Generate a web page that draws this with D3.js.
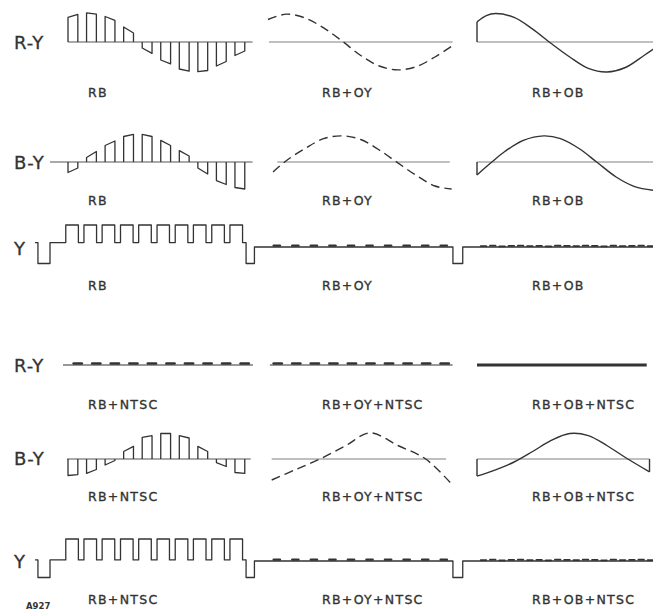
<!DOCTYPE html>
<html>
<head>
<script src="https://d3js.org/d3.v7.min.js"></script>
<style>
  body { margin: 0; background: #fff; }
</style>
</head>
<body>
<script>
// row titles and panel captions
const rowNames = ["R-Y", "B-Y", "Y", "R-Y", "B-Y", "Y"];
const captionsTop = ["RB", "RB+OY", "RB+OB"];
const captionsNtsc = ["RB+NTSC", "RB+OY+NTSC", "RB+OB+NTSC"];
const figureCode = "A927";

// sampled chroma pulses: [value at start, value at end] of each top (-1..1)
const ryPulsesRB = [[0.82, 0.92], [0.97, 0.93], [0.85, 0.72], [0.5, 0.3], [-0.2, -0.38],
                    [-0.6, -0.73], [-0.9, -0.97], [-0.99, -0.95], [-0.8, -0.65], [-0.45, -0.3]];
const byPulsesRB = [[-0.35, -0.2], [0.15, 0.35], [0.55, 0.7], [0.85, 0.92], [0.92, 0.85],
                    [0.72, 0.55], [0.38, 0.2], [-0.2, -0.4], [-0.62, -0.75], [-0.85, -0.9]];
const byPulsesNtsc = [[-0.55, -0.52], [-0.48, -0.35], [-0.2, -0.05], [0.25, 0.42], [0.72, 0.78],
                      [0.85, 0.85], [0.78, 0.7], [0.42, 0.25], [-0.12, -0.25], [-0.45, -0.48]];
// tiny residue left on R-Y with NTSC (per pulse slot)
const ryResidNtsc = [0.05, 0.05, 0.05, 0.05, 0.05, 0.05, 0.05, 0.05, 0.05, 0.05];
const ryResidNtscOY = [0.05, 0.05, 0.05, 0.05, 0.05, 0.05, 0.05, 0.05, 0.05, 0.05];

// continuous curves: [time, value]
const ryCurveOY = [[0, 0.75], [1, 0.93], [2, 0.8], [3, 0.47], [4, 0.03], [5, -0.45],
                   [6, -0.8], [7, -0.93], [8, -0.82], [9, -0.5], [9.95, -0.12]];
const ryCurveOB = [[0, 0.67], [0.5, 0.88], [1, 0.95], [2, 0.82], [3, 0.43], [4, -0.05],
                   [5, -0.5], [6, -0.88], [7, -1.0], [8, -0.85], [9, -0.45], [9.6, -0.2]];
const byCurveOY = [[0.27, -0.33], [1, 0.05], [2, 0.45], [3, 0.78], [4, 0.87], [5, 0.75],
                   [6, 0.4], [7, -0.03], [8, -0.45], [9, -0.8], [9.9, -0.9]];
const byCurveOB = [[0, -0.43], [0.8, 0], [1.5, 0.35], [2.5, 0.72], [3.6, 0.87], [4.5, 0.78],
                   [5.5, 0.45], [6.45, 0], [7.5, -0.5], [8.5, -0.82], [9.6, -0.95]];
const byCurveOYNtsc = [[0.2, -0.7], [1.5, -0.35], [2.8, 0], [4.2, 0.45], [5.5, 0.87],
                       [7, 0.45], [8.5, 0], [9.95, -0.87]];
const byCurveOBNtsc = [[0, -0.57], [1, -0.36], [2, -0.1], [3, 0.25], [4, 0.62], [5, 0.85],
                       [6, 0.78], [7, 0.45], [8, 0.05], [9.3, -0.43]];

// luminance staircase: pulse edges, sync edges (time units) and levels
const yPulseOn = [-0.12, 0.86, 1.84, 2.83, 3.81, 4.8, 5.78, 6.76, 7.75, 8.73];
const yPulseOff = [0.56, 1.54, 2.52, 3.51, 4.49, 5.47, 6.46, 7.44, 8.43, 9.41];
const ySyncOn = [-1.62, 9.6, 20.75];
const ySyncOff = [-0.97, 10.05, 21.28];
const yLevelSync = -0.75;
const yLowRB = 0.2;
const yLowNtsc = 0.05;
// small residue bumps on the luminance line
const yResidOY = [0.06, 0.06, 0.06, 0.06, 0.06, 0.06, 0.06, 0.06, 0.06, 0.06];
const yResidOB = [0.04, 0.06, 0.03, 0.05, 0.06, 0.04, 0.05, 0.03, 0.06, 0.05,
                  0.04, 0.06, 0.05, 0.03, 0.06, 0.04, 0.05, 0.06, 0.04, 0.05];

const W = 653, H = 610;
const ink = "#333";
const svg = d3.select("body").append("svg")
  .attr("width", W).attr("height", H)
  .style("background", "#fff")
  .style("font-family", "'DejaVu Sans', sans-serif");

const rowBase = [42, 162, 247, 365, 459, 561];
const x1 = d3.scaleLinear().domain([0, 10]).range([68, 253.5]);
const x2 = d3.scaleLinear().domain([0, 10]).range([268, 453.5]);
const x3 = d3.scaleLinear().domain([0, 10]).range([477, 662.5]);
const chromaY = r => d3.scaleLinear().domain([-1, 1]).range([rowBase[r] + 30, rowBase[r] - 30]);
const lumaY = r => d3.scaleLinear().domain([0, 1]).range([rowBase[r], rowBase[r] - 22]);

function zeroLine(x, y, t0, t1, w, col) {
  svg.append("line")
    .attr("x1", x(t0)).attr("x2", x(t1))
    .attr("y1", y(0)).attr("y2", y(0))
    .attr("stroke", col || "#808080").attr("stroke-width", w || 1);
}

function pulses(x, y, data) {
  svg.append("g").selectAll("path").data(data).join("path")
    .attr("d", (d, i) => d3.line()([[x(i), y(0)], [x(i), y(d[0])], [x(i + 0.53), y(d[1])], [x(i + 0.53), y(0)]]))
    .attr("fill", "none").attr("stroke", ink).attr("stroke-width", 1.3)
    .attr("stroke-linejoin", "round");
}

function curve(x, y, data, dashed) {
  const line = d3.line().x(d => x(d[0])).y(d => y(d[1])).curve(d3.curveCatmullRom.alpha(0.5));
  svg.append("path").attr("d", line(data))
    .attr("fill", "none").attr("stroke", ink).attr("stroke-width", 1.4)
    .attr("stroke-dasharray", dashed ? "9,5" : null);
}

function edge(x, y, d) {
  svg.append("line")
    .attr("x1", x(d[0])).attr("x2", x(d[0]))
    .attr("y1", y(0)).attr("y2", y(d[1]))
    .attr("stroke", ink).attr("stroke-width", 1.4);
}

function residue(x, y, data, from, len, w) {
  svg.append("g").selectAll("line").data(data).join("line")
    .attr("x1", (d, i) => x(from + i * (10 / data.length)))
    .attr("x2", (d, i) => x(from + i * (10 / data.length) + len))
    .attr("y1", d => y(d)).attr("y2", d => y(d))
    .attr("stroke", ink).attr("stroke-width", w).attr("stroke-linecap", "round");
}

function lumaRow(r, low) {
  const y = lumaY(r);
  const pts = [[-1.78, low], [ySyncOn[0], low], [ySyncOn[0], yLevelSync], [ySyncOff[0], yLevelSync], [ySyncOff[0], low]];
  yPulseOn.forEach((on, i) => {
    pts.push([on, low], [on, 1], [yPulseOff[i], 1], [yPulseOff[i], low]);
  });
  pts.push([ySyncOn[1], low], [ySyncOn[1], yLevelSync], [ySyncOff[1], yLevelSync], [ySyncOff[1], 0],
           [ySyncOn[2], 0], [ySyncOn[2], yLevelSync], [ySyncOff[2], yLevelSync], [ySyncOff[2], 0], [31.6, 0]);
  svg.append("path")
    .attr("d", d3.line().x(d => x1(d[0])).y(d => y(d[1]))(pts))
    .attr("fill", "none").attr("stroke", ink).attr("stroke-width", 1.3)
    .attr("stroke-linejoin", "round");
  residue(x2, y, yResidOY, 0.3, 0.35, 2.2);
  residue(x3, y, yResidOB, 0.2, 0.3, 1.8);
}

// row 1: R-Y
let y = chromaY(0);
zeroLine(x1, y, 0, 9.95, 1.1, "#555");
pulses(x1, y, ryPulsesRB);
zeroLine(x2, y, 0.05, 9.95);
curve(x2, y, ryCurveOY, true);
zeroLine(x3, y, 0, 9.6);
edge(x3, y, ryCurveOB[0]);
curve(x3, y, ryCurveOB, false);

// row 2: B-Y
y = chromaY(1);
zeroLine(x1, y, -0.97, 9.95, 1.1, "#555");
pulses(x1, y, byPulsesRB);
zeroLine(x2, y, 0.5, 9.8);
curve(x2, y, byCurveOY, true);
zeroLine(x3, y, 0, 9.6);
edge(x3, y, byCurveOB[0]);
curve(x3, y, byCurveOB, false);

// row 3: Y
lumaRow(2, yLowRB);

// row 4: R-Y with NTSC
y = chromaY(3);
zeroLine(x1, y, -0.27, 9.97, 1.2, ink);
residue(x1, y, ryResidNtsc, 0.3, 0.45, 2.4);
zeroLine(x2, y, 0.1, 9.95, 1.2, ink);
residue(x2, y, ryResidNtscOY, 0.3, 0.45, 2.4);
zeroLine(x3, y, 0, 9.15, 3, ink);

// row 5: B-Y with NTSC
y = chromaY(4);
zeroLine(x1, y, -0.05, 9.85, 1.1, "#555");
pulses(x1, y, byPulsesNtsc);
zeroLine(x2, y, 0.2, 9.6);
curve(x2, y, byCurveOYNtsc, true);
zeroLine(x3, y, 0, 9.3);
edge(x3, y, byCurveOBNtsc[0]);
edge(x3, y, byCurveOBNtsc[byCurveOBNtsc.length - 1]);
curve(x3, y, byCurveOBNtsc, false);

// row 6: Y with NTSC
lumaRow(5, yLowNtsc);

// row titles
const nameBase = [49, 169, 255, 372, 465, 568];
svg.append("g").selectAll("text").data(rowNames).join("text")
  .attr("x", 14).attr("y", (d, i) => nameBase[i])
  .attr("font-size", 18).attr("letter-spacing", 1)
  .attr("fill", ink).attr("stroke", ink).attr("stroke-width", 0.3)
  .text(d => d);

// captions
const capBase = [97, 205, 290, 409, 501, 604];
const capX = [88, 322, 532];
capBase.forEach((b, r) => {
  const caps = r < 3 ? captionsTop : captionsNtsc;
  svg.append("g").selectAll("text").data(caps).join("text")
    .attr("x", (d, i) => capX[i]).attr("y", b)
    .attr("font-size", 12.5).attr("letter-spacing", 1.3)
    .attr("fill", ink).attr("stroke", ink).attr("stroke-width", 0.35)
    .text(d => d);
});

svg.append("text").attr("x", 26).attr("y", 609)
  .attr("font-size", 8.5).attr("font-weight", "bold")
  .attr("fill", ink).text(figureCode);
</script>
</body>
</html>
